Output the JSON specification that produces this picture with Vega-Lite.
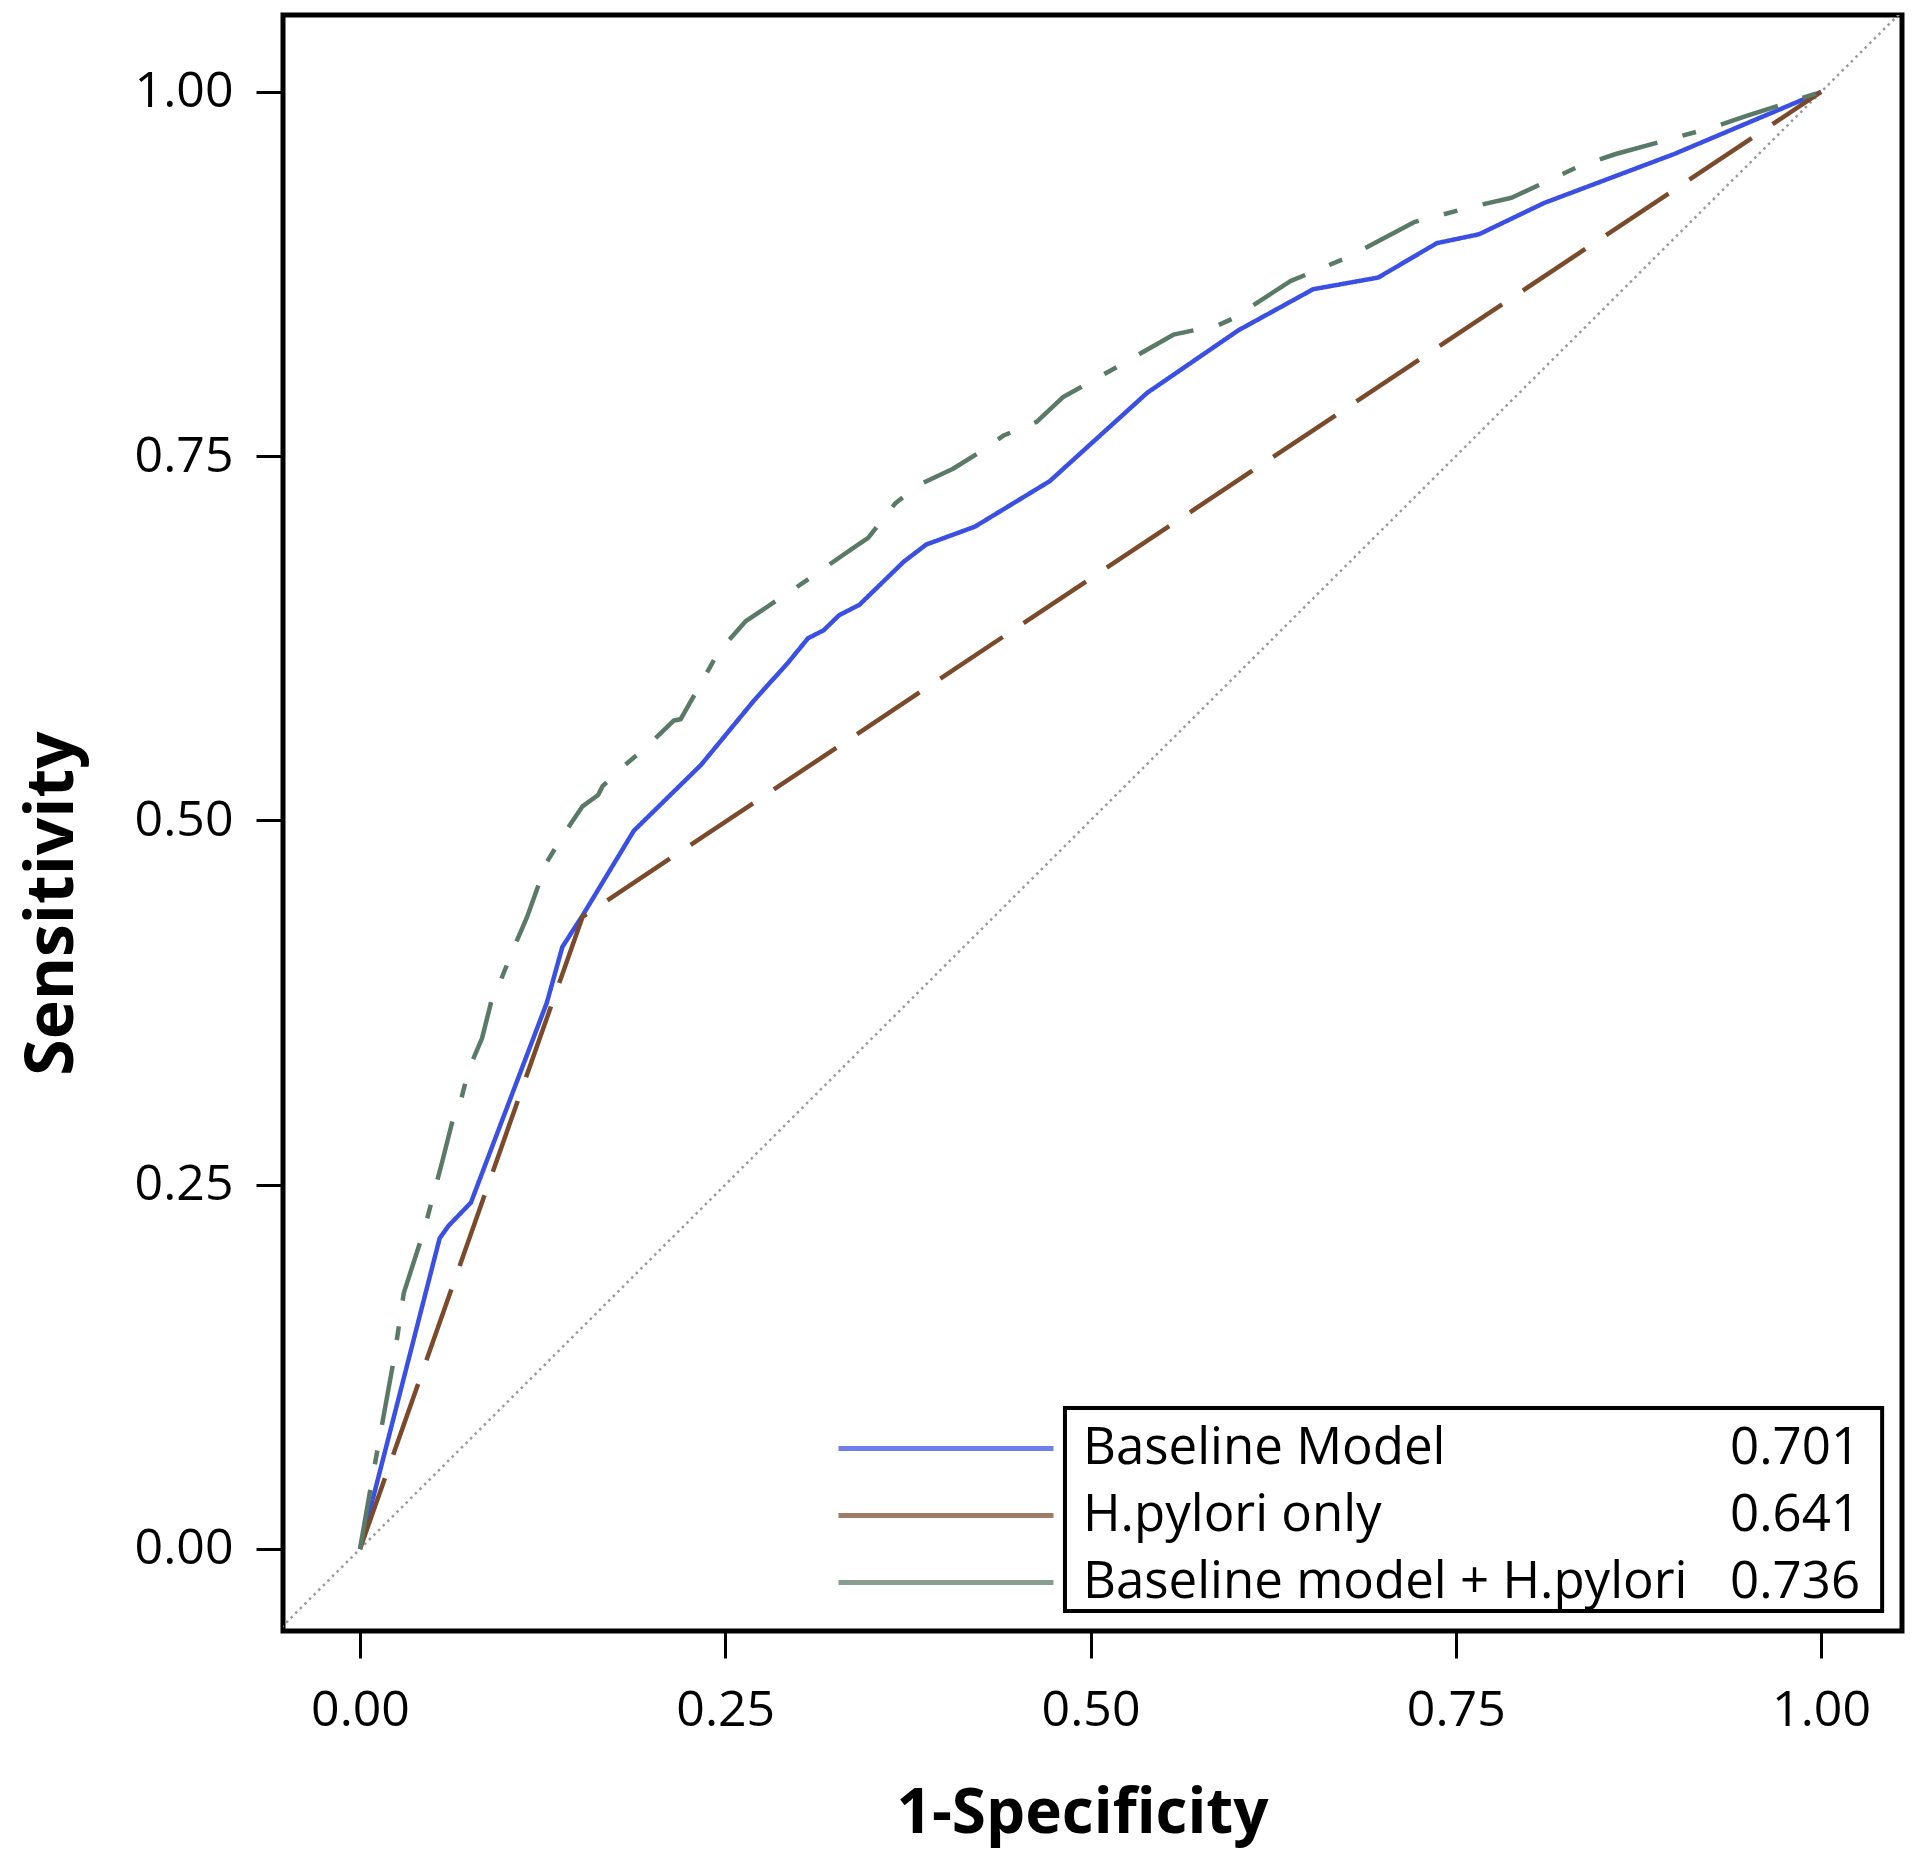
{
  "$schema": "https://vega.github.io/schema/vega-lite/v6.json",
  "width": 1619,
  "height": 1616,
  "autosize": {"type": "none"},
  "padding": {"left": 283, "top": 15, "right": 18, "bottom": 222},
  "background": "white",
  "config": {
    "view": {"stroke": "black", "strokeWidth": 5},
    "font": "Open Sans",
    "axis": {
      "grid": false,
      "domain": false,
      "ticks": true,
      "tickColor": "black",
      "tickWidth": 3,
      "tickSize": 27,
      "labelFont": "Open Sans",
      "labelFontSize": 50,
      "labelColor": "black",
      "labelOverlap": false,
      "labelFlush": false,
      "labelBound": false,
      "titleFont": "Open Sans",
      "titleFontWeight": "bold",
      "titleColor": "black"
    },
    "axisX": {"labelPadding": 27, "titleFontSize": 62, "titleX": 799, "titleY": 201, "titleBaseline": "alphabetic"},
    "axisY": {"labelPadding": 23, "titleFontSize": 66, "titleAngle": 270, "titleX": -211, "titleY": 888, "titleBaseline": "alphabetic", "titleAlign": "center"},
    "legend": {"padding": 0, "labelFont": "Open Sans", "labelFontSize": 51, "labelColor": "black", "labelLimit": 0}
  },
  "datasets": {
    "models": [
      {"model": "Baseline Model", "auc": "0.701"},
      {"model": "H.pylori only", "auc": "0.641"},
      {"model": "Baseline model + H.pylori", "auc": "0.736"}
    ],
    "chance": [
      {"fpr": -0.06, "tpr": -0.06},
      {"fpr": 1.06, "tpr": 1.06}
    ],
    "roc": [
      {"model": "Baseline Model", "fpr": 0, "tpr": 0},
      {"model": "Baseline Model", "fpr": 0.0545, "tpr": 0.2132},
      {"model": "Baseline Model", "fpr": 0.0606, "tpr": 0.2218},
      {"model": "Baseline Model", "fpr": 0.0759, "tpr": 0.2377},
      {"model": "Baseline Model", "fpr": 0.1279, "tpr": 0.375},
      {"model": "Baseline Model", "fpr": 0.1385, "tpr": 0.4132},
      {"model": "Baseline Model", "fpr": 0.1523, "tpr": 0.4347},
      {"model": "Baseline Model", "fpr": 0.1874, "tpr": 0.4929},
      {"model": "Baseline Model", "fpr": 0.2333, "tpr": 0.538},
      {"model": "Baseline Model", "fpr": 0.27, "tpr": 0.5827},
      {"model": "Baseline Model", "fpr": 0.2929, "tpr": 0.6082},
      {"model": "Baseline Model", "fpr": 0.3066, "tpr": 0.625},
      {"model": "Baseline Model", "fpr": 0.3173, "tpr": 0.6305},
      {"model": "Baseline Model", "fpr": 0.328, "tpr": 0.6409},
      {"model": "Baseline Model", "fpr": 0.3418, "tpr": 0.648},
      {"model": "Baseline Model", "fpr": 0.3723, "tpr": 0.6777},
      {"model": "Baseline Model", "fpr": 0.3876, "tpr": 0.6894},
      {"model": "Baseline Model", "fpr": 0.4208, "tpr": 0.7016},
      {"model": "Baseline Model", "fpr": 0.472, "tpr": 0.7328},
      {"model": "Baseline Model", "fpr": 0.5388, "tpr": 0.7935},
      {"model": "Baseline Model", "fpr": 0.6012, "tpr": 0.8364},
      {"model": "Baseline Model", "fpr": 0.6524, "tpr": 0.8646},
      {"model": "Baseline Model", "fpr": 0.6969, "tpr": 0.8726},
      {"model": "Baseline Model", "fpr": 0.737, "tpr": 0.8962},
      {"model": "Baseline Model", "fpr": 0.7659, "tpr": 0.9023},
      {"model": "Baseline Model", "fpr": 0.8105, "tpr": 0.9238},
      {"model": "Baseline Model", "fpr": 0.8995, "tpr": 0.9574},
      {"model": "Baseline Model", "fpr": 1, "tpr": 1},
      {"model": "H.pylori only", "fpr": 0, "tpr": 0},
      {"model": "H.pylori only", "fpr": 0.1523, "tpr": 0.4338},
      {"model": "H.pylori only", "fpr": 1, "tpr": 1},
      {"model": "Baseline model + H.pylori", "fpr": 0, "tpr": 0},
      {"model": "Baseline model + H.pylori", "fpr": 0.0078, "tpr": 0.045},
      {"model": "Baseline model + H.pylori", "fpr": 0.0235, "tpr": 0.132},
      {"model": "Baseline model + H.pylori", "fpr": 0.03, "tpr": 0.1758},
      {"model": "Baseline model + H.pylori", "fpr": 0.0438, "tpr": 0.2187},
      {"model": "Baseline model + H.pylori", "fpr": 0.056, "tpr": 0.2647},
      {"model": "Baseline model + H.pylori", "fpr": 0.0637, "tpr": 0.2953},
      {"model": "Baseline model + H.pylori", "fpr": 0.0682, "tpr": 0.3045},
      {"model": "Baseline model + H.pylori", "fpr": 0.0744, "tpr": 0.329},
      {"model": "Baseline model + H.pylori", "fpr": 0.0835, "tpr": 0.3504},
      {"model": "Baseline model + H.pylori", "fpr": 0.0912, "tpr": 0.3811},
      {"model": "Baseline model + H.pylori", "fpr": 0.0957, "tpr": 0.3887},
      {"model": "Baseline model + H.pylori", "fpr": 0.1049, "tpr": 0.4117},
      {"model": "Baseline model + H.pylori", "fpr": 0.1141, "tpr": 0.4331},
      {"model": "Baseline model + H.pylori", "fpr": 0.1279, "tpr": 0.4715},
      {"model": "Baseline model + H.pylori", "fpr": 0.14, "tpr": 0.4914},
      {"model": "Baseline model + H.pylori", "fpr": 0.1523, "tpr": 0.5097},
      {"model": "Baseline model + H.pylori", "fpr": 0.163, "tpr": 0.5175},
      {"model": "Baseline model + H.pylori", "fpr": 0.166, "tpr": 0.5235},
      {"model": "Baseline model + H.pylori", "fpr": 0.1798, "tpr": 0.5367},
      {"model": "Baseline model + H.pylori", "fpr": 0.1951, "tpr": 0.5496},
      {"model": "Baseline model + H.pylori", "fpr": 0.2149, "tpr": 0.5686},
      {"model": "Baseline model + H.pylori", "fpr": 0.2195, "tpr": 0.5695},
      {"model": "Baseline model + H.pylori", "fpr": 0.2455, "tpr": 0.6158},
      {"model": "Baseline model + H.pylori", "fpr": 0.2638, "tpr": 0.6366},
      {"model": "Baseline model + H.pylori", "fpr": 0.299, "tpr": 0.6602},
      {"model": "Baseline model + H.pylori", "fpr": 0.3387, "tpr": 0.6878},
      {"model": "Baseline model + H.pylori", "fpr": 0.3478, "tpr": 0.6939},
      {"model": "Baseline model + H.pylori", "fpr": 0.3662, "tpr": 0.7175},
      {"model": "Baseline model + H.pylori", "fpr": 0.3815, "tpr": 0.7298},
      {"model": "Baseline model + H.pylori", "fpr": 0.4059, "tpr": 0.7414},
      {"model": "Baseline model + H.pylori", "fpr": 0.4231, "tpr": 0.7521},
      {"model": "Baseline model + H.pylori", "fpr": 0.4409, "tpr": 0.7644},
      {"model": "Baseline model + H.pylori", "fpr": 0.4631, "tpr": 0.7736},
      {"model": "Baseline model + H.pylori", "fpr": 0.481, "tpr": 0.7904},
      {"model": "Baseline model + H.pylori", "fpr": 0.5166, "tpr": 0.8104},
      {"model": "Baseline model + H.pylori", "fpr": 0.5567, "tpr": 0.8334},
      {"model": "Baseline model + H.pylori", "fpr": 0.5878, "tpr": 0.8401},
      {"model": "Baseline model + H.pylori", "fpr": 0.5967, "tpr": 0.8441},
      {"model": "Baseline model + H.pylori", "fpr": 0.6368, "tpr": 0.8701},
      {"model": "Baseline model + H.pylori", "fpr": 0.6769, "tpr": 0.8869},
      {"model": "Baseline model + H.pylori", "fpr": 0.7214, "tpr": 0.9106},
      {"model": "Baseline model + H.pylori", "fpr": 0.7593, "tpr": 0.9207},
      {"model": "Baseline model + H.pylori", "fpr": 0.7882, "tpr": 0.9274},
      {"model": "Baseline model + H.pylori", "fpr": 0.8327, "tpr": 0.9482},
      {"model": "Baseline model + H.pylori", "fpr": 0.8595, "tpr": 0.9574},
      {"model": "Baseline model + H.pylori", "fpr": 0.9263, "tpr": 0.9758},
      {"model": "Baseline model + H.pylori", "fpr": 0.9485, "tpr": 0.9834},
      {"model": "Baseline model + H.pylori", "fpr": 1, "tpr": 1}
    ]
  },
  "layer": [
    {
      "data": {"name": "chance"},
      "mark": {"type": "line", "color": "#9a9a9a", "strokeWidth": 2.5, "strokeDash": [2.5, 4], "clip": true},
      "encoding": {
        "x": {"field": "fpr", "type": "quantitative", "title": "1-Specificity", "scale": {"domain": [-0.0527, 1.0554], "nice": false, "zero": false}, "axis": {"values": [0, 0.25, 0.5, 0.75, 1], "format": ".2f"}},
        "y": {"field": "tpr", "type": "quantitative", "title": "Sensitivity", "scale": {"domain": [-0.0563, 1.0528], "nice": false, "zero": false}, "axis": {"values": [0, 0.25, 0.5, 0.75, 1], "format": ".2f"}}
      }
    },
    {
      "data": {"values": [{}]},
      "mark": {"type": "rect", "fill": "white", "stroke": "black", "strokeWidth": 4},
      "encoding": {
        "x": {"datum": 0.4825, "type": "quantitative", "title": "1-Specificity", "scale": {"domain": [-0.0527, 1.0554], "nice": false, "zero": false}, "axis": {"values": [0, 0.25, 0.5, 0.75, 1], "format": ".2f"}},
        "x2": {"datum": 1.0418},
        "y": {"datum": 0.0968, "type": "quantitative", "title": "Sensitivity", "scale": {"domain": [-0.0563, 1.0528], "nice": false, "zero": false}, "axis": {"values": [0, 0.25, 0.5, 0.75, 1], "format": ".2f"}},
        "y2": {"datum": -0.0425}
      }
    },
    {
      "data": {"name": "roc"},
      "transform": [
        {"lookup": "model", "from": {"data": {"name": "models"}, "key": "model", "fields": ["auc"]}}
      ],
      "mark": {"type": "line", "clip": true, "strokeWidth": 4.5, "strokeCap": "butt", "strokeJoin": "round"},
      "encoding": {
        "x": {"field": "fpr", "type": "quantitative", "title": "1-Specificity", "scale": {"domain": [-0.0527, 1.0554], "nice": false, "zero": false}, "axis": {"values": [0, 0.25, 0.5, 0.75, 1], "format": ".2f"}},
        "y": {"field": "tpr", "type": "quantitative", "title": "Sensitivity", "scale": {"domain": [-0.0563, 1.0528], "nice": false, "zero": false}, "axis": {"values": [0, 0.25, 0.5, 0.75, 1], "format": ".2f"}},
        "color": {
          "field": "model", "type": "nominal",
          "scale": {"domain": ["Baseline Model", "H.pylori only", "Baseline model + H.pylori"], "range": ["#3a4fe4", "#7a4a2a", "#5a7a68"]},
          "legend": {
            "title": null, "orient": "none", "legendX": 553, "legendY": 1408,
            "symbolType": "stroke", "symbolSize": 46225, "symbolStrokeWidth": 5, "symbolOpacity": 0.72,
            "clipHeight": 51,
            "labelOffset": 27, "rowPadding": 15
          }
        },
        "strokeDash": {
          "field": "auc", "type": "nominal",
          "scale": {"domain": ["0.701", "0.641", "0.736"], "range": [[1, 0], [75, 25], [60, 26, 14, 26]]},
          "legend": {"title": null, "orient": "none", "legendX": 1396, "legendY": 1408, "symbolOpacity": 0, "symbolStrokeWidth": 0, "symbolSize": 1, "clipHeight": 51, "labelOffset": 0, "rowPadding": 15}
        }
      }
    }
  ]
}
